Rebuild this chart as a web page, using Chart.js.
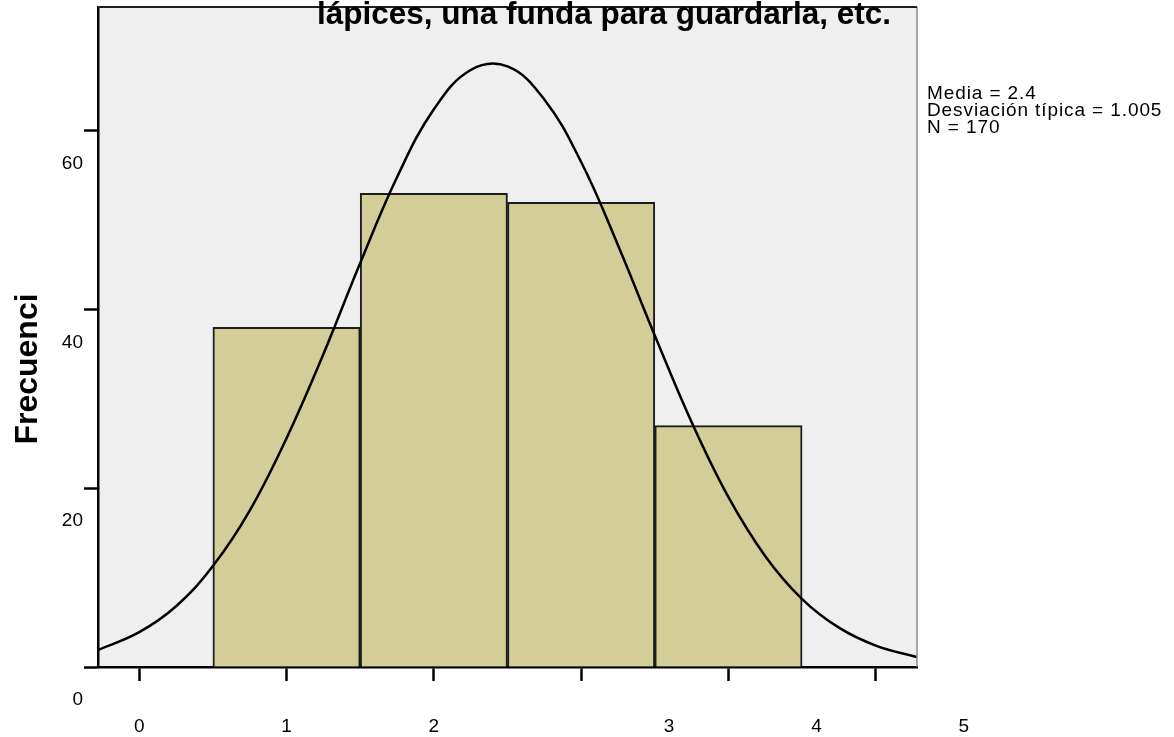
<!DOCTYPE html>
<html>
<head>
<meta charset="utf-8">
<title>Histograma</title>
<script src="https://cdn.jsdelivr.net/npm/chart.js@4.4.1/dist/chart.umd.min.js"></script>
<style>
  body { margin: 0; background: #fff; }
  canvas { display: block; }
</style>
</head>
<body>
<canvas id="hist-chart" width="1174" height="737"></canvas>
<script>
// valores de la variable y frecuencia de cada uno
const binCenters = [1, 2, 3, 4]
const frequencies = [38, 53, 52, 27]

// curva normal superpuesta (frecuencia esperada)
const curveX = [-0.28, 0, 0.25, 0.5, 0.75, 1, 1.25, 1.5, 1.75, 2, 2.25, 2.5, 2.75, 3, 3.25, 3.5, 3.75, 4, 4.25, 4.5, 4.75, 5, 5.28]
const curveY = [1.9, 3.9, 6.8, 11.3, 17.5, 25.6, 35.0, 45.2, 54.8, 62.4, 66.8, 67.2, 63.5, 56.5, 47.2, 37.1, 27.4, 19.0, 12.4, 7.6, 4.4, 2.4, 1.1]

const yTicks = [0, 20, 40, 60]
const xTicks = [0, 1, 2, 3, 4, 5]
const xTickLabels = ["0", "1", "2", "3", "4", "5"]
const xLabelShift = [0, 0, 0, 88, 88, 88]

const titleText = "lápices, una funda para guardarla, etc."
const axisTitle = "Frecuenci"
const statsLines = ["Media = 2.4", "Desviación típica = 1.005", "N = 170"]

const FONT = "'Liberation Sans', Arial, sans-serif"

// fondo del área, marco y textos sueltos
const histDecor = {
  id: "histDecor",
  beforeDraw(chart) {
    const { ctx, chartArea: a } = chart
    ctx.save()
    ctx.fillStyle = "#efefef"
    ctx.fillRect(a.left, a.top, a.right - a.left, a.bottom - a.top)
    ctx.restore()
  },
  afterDraw(chart) {
    const { ctx, chartArea: a, scales } = chart
    ctx.save()
    ctx.strokeStyle = "#8c8c8c"
    ctx.lineWidth = 1.5
    ctx.beginPath()
    ctx.moveTo(a.right, a.top)
    ctx.lineTo(a.right, a.bottom)
    ctx.stroke()
    ctx.strokeStyle = "#1e1e1e"
    ctx.lineWidth = 2
    ctx.beginPath()
    ctx.moveTo(a.left, a.top)
    ctx.lineTo(a.right, a.top)
    ctx.stroke()

    ctx.fillStyle = "#000"
    ctx.textBaseline = "alphabetic"

    // etiquetas del eje x
    ctx.font = "19px " + FONT
    ctx.textAlign = "center"
    xTicks.forEach((v, i) => {
      ctx.fillText(xTickLabels[i], scales.x.getPixelForValue(v) + xLabelShift[i], 732)
    })

    // titulo del eje y
    ctx.save()
    ctx.font = "bold 32px " + FONT
    ctx.translate(37, 369)
    ctx.rotate(-Math.PI / 2)
    ctx.fillText(axisTitle, 0, 0)
    ctx.restore()

    // estadisticos
    ctx.font = "19px " + FONT
    ctx.letterSpacing = "0.9px"
    ctx.textAlign = "left"
    statsLines.forEach((t, i) => ctx.fillText(t, 927, 99 + i * 17))
    ctx.letterSpacing = "0px"

    // titulo
    ctx.font = "bold 31.5px " + FONT
    ctx.textAlign = "center"
    ctx.fillText(titleText, 604, 24)
    ctx.restore()
  },
}

const tickGrid = {
  offset: false,
  drawOnChartArea: false,
  drawTicks: true,
  tickLength: 14,
  tickColor: "#000",
  tickWidth: 2.5,
}

new Chart(document.getElementById("hist-chart"), {
  type: "bar",
  data: {
    datasets: [
      {
        type: "line",
        data: curveX.map((x, i) => ({ x: x, y: curveY[i] })),
        borderColor: "#000",
        borderWidth: 2.5,
        pointRadius: 0,
        tension: 0.4,
        fill: false,
        order: 0,
      },
      {
        type: "bar",
        data: binCenters.map((x, i) => ({ x: x, y: frequencies[i] })),
        backgroundColor: "#d3ce98",
        borderColor: "#1c1c1c",
        borderWidth: 2,
        barPercentage: 1,
        categoryPercentage: 1,
        order: 1,
      },
    ],
  },
  options: {
    responsive: false,
    animation: false,
    layout: { padding: { top: 7, right: 257, left: 0, bottom: 0 } },
    plugins: {
      legend: { display: false },
      tooltip: { enabled: false },
    },
    scales: {
      x: {
        type: "linear",
        min: -0.28,
        max: 5.28,
        offset: false,
        afterBuildTicks: (s) => {
          s.ticks = xTicks.map((v) => ({ value: v }))
        },
        afterFit: (s) => {
          s.height = 70
          s.paddingLeft = 0
          s.paddingRight = 0
        },
        grid: tickGrid,
        border: { color: "#000", width: 2.5 },
        ticks: { display: false },
      },
      y: {
        min: 0,
        max: 73.85,
        afterBuildTicks: (s) => {
          s.ticks = yTicks.map((v) => ({ value: v }))
        },
        afterFit: (s) => {
          s.width = 98
          s.paddingTop = 0
          s.paddingBottom = 0
        },
        grid: tickGrid,
        border: { color: "#000", width: 2.5 },
        ticks: {
          padding: 1,
          labelOffset: 33,
          color: "#000",
          font: { family: FONT, size: 19 },
        },
      },
    },
  },
  plugins: [histDecor],
})
</script>
</body>
</html>
